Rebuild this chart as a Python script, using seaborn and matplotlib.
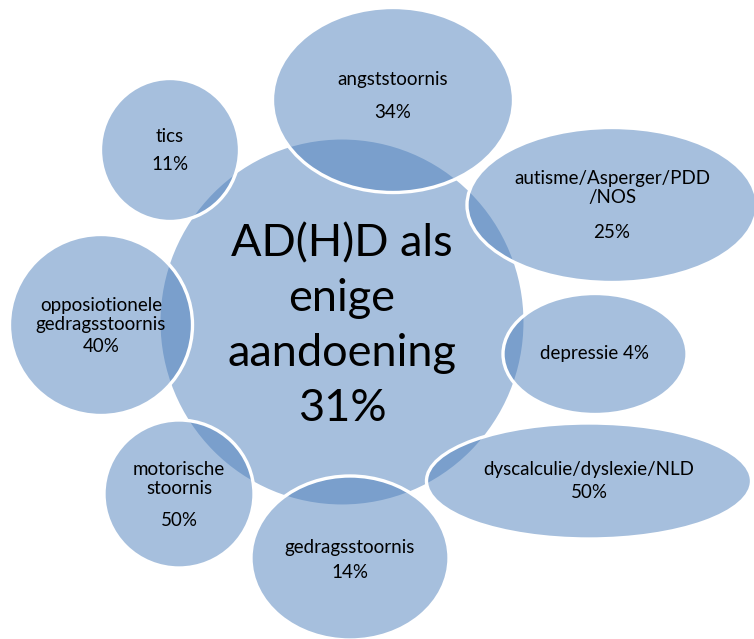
import matplotlib
matplotlib.use("Agg")
import matplotlib.pyplot as plt
from matplotlib.patches import Ellipse
import seaborn as sns

# data
center_label = "AD(H)D als\nenige\naandoening"
center_pct = "31%"
labels = ["angststoornis", "autisme/Asperger/PDD\n/NOS", "depressie",
          "dyscalculie/dyslexie/NLD", "gedragsstoornis", "motorische\nstoornis",
          "opposiotionele\ngedragsstoornis", "tics"]
percents = ["34%", "25%", "4%", "50%", "14%", "50%", "40%", "11%"]

# layout (pixels, y down)
centers = [(393, 100), (612, 205), (595, 354), (589, 481),
           (350, 558), (179, 494), (101, 325), (170, 150)]
sizes = [(241, 185), (290, 155), (184, 121), (325, 116),
         (198, 164), (150, 148), (183, 181), (139, 143)]
label_y = [80, 188, 354, 470, 547, 479, 315, 137]
pct_y = [113, 232, None, 493, 572, 520, 346, 165]

sns.set_theme(style="white")
plt.rcParams['font.family'] = ['Lato', 'DejaVu Sans']
blue = sns.color_palette(["#4F81BD"])[0]
fill = (*blue, 0.5)

fig = plt.figure(figsize=(7.54, 6.39), dpi=100)
ax = fig.add_axes([0, 0, 1, 1])
ax.set_xlim(0, 754)
ax.set_ylim(639, 0)
ax.set_aspect("equal")
ax.axis("off")

ax.add_patch(Ellipse((342, 322), 366, 368, facecolor=fill, edgecolor="white", lw=2.2))
ax.text(342, 326, center_label + "\n" + center_pct, ha="center", va="center",
        fontsize=32.5, color="black", linespacing=1.42)

for (cx, cy), (w, h), lab, pct, ly, py in zip(centers, sizes, labels, percents, label_y, pct_y):
    ax.add_patch(Ellipse((cx, cy), w, h, facecolor=fill, edgecolor="white", lw=2.4))
    if py is None:
        # label and percentage on one line
        ax.text(cx, ly, lab + " " + pct, ha="center", va="center", fontsize=13.5,
                color="black")
        continue
    ax.text(cx, ly, lab, ha="center", va="center", fontsize=13.5,
            color="black", linespacing=1.1)
    ax.text(cx, py, pct, ha="center", va="center", fontsize=13.5, color="black")

fig.savefig("out.png", dpi=100)
